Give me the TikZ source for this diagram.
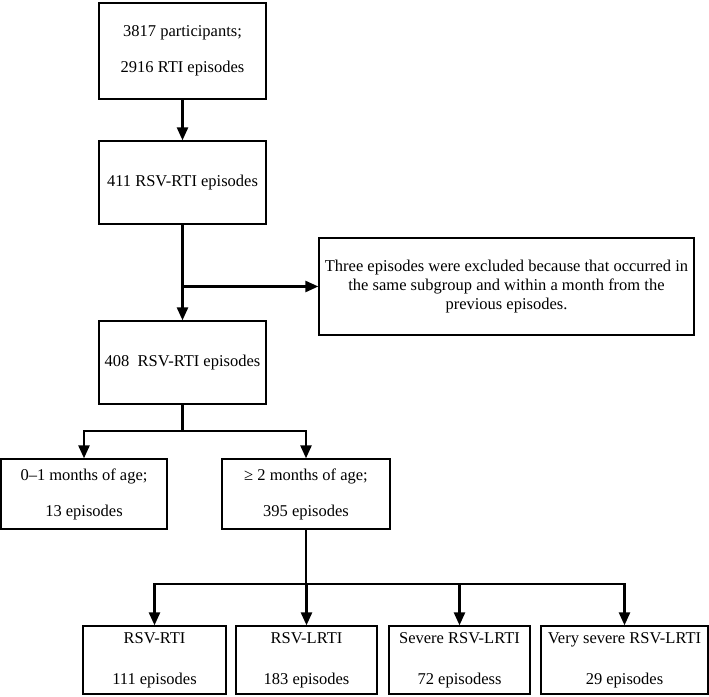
\documentclass[tikz,border=0pt]{standalone}
\usepackage{fontspec}
\setmainfont{Liberation Serif}
\usetikzlibrary{arrows.meta}

\begin{document}
\begin{tikzpicture}[x = 1pt, y = 1pt,
  box/.style = {draw, line width = 1.3pt, inner sep = 0pt, align = center,
    font = \fontsize{16.5}{36}\selectfont},
  leafbox/.style = {box, minimum height = 68, font = \fontsize{16.5}{41}\selectfont},
  flow/.style = {line width = 2.5pt},
  flowarrow/.style = {flow, -{Triangle[length = 13pt, width = 11pt]}}]
  \useasboundingbox (0,0) rectangle (709,696);

  \node[box, minimum width = 167, minimum height = 96] (participants) at (182.5,645) {3817 participants;\\2916 RTI episodes};
  \node[box, minimum width = 167, minimum height = 83] (rsv411) at (182.5,513.5) {411 RSV-RTI episodes};
  \node[box, minimum width = 167, minimum height = 83] (rsv408) at (182.5,333.5) {408~~RSV-RTI episodes};
  \node[box, minimum width = 375, minimum height = 97, font = \fontsize{16.5}{19}\selectfont] (excluded) at (506.5,409.5)
    {Three episodes were excluded because that occurred in\\the same subgroup and within a month from the\\previous episodes.};

  \node[box, minimum width = 166, minimum height = 70] (young) at (84,202) {0–1 months of age;\\13 episodes};
  \node[box, minimum width = 168, minimum height = 70] (older) at (306,202) {≥ 2 months of age;\\395 episodes};

  \node[leafbox, minimum width = 143] (rti) at (154.5,36) {RSV-RTI\\111 episodes};
  \node[leafbox, minimum width = 141] (lrti) at (306.5,36) {RSV-LRTI\\183 episodes};
  \node[leafbox, minimum width = 141] (severe) at (459.5,36) {Severe RSV-LRTI\\72 episodess};
  \node[leafbox, minimum width = 167] (vsevere) at (624.5,36) {Very severe RSV-LRTI\\29 episodes};

  \draw[flowarrow] (participants) -- (rsv411);
  \draw[flowarrow] (rsv411) -- (rsv408);
  \coordinate (split) at (rsv411.south |- excluded.west);
  \draw[flowarrow] (split) -- (excluded.west);

  \coordinate (fork1) at (rsv408.south |- 0,265);
  \draw[flow] (rsv408) -- (fork1);
  \draw[flowarrow] (fork1) -| (young.north);
  \draw[flowarrow] (fork1) -| (older.north);

  \coordinate (fork2) at (older.south |- 0,112);
  \draw[flow] (older) -- (fork2);
  \foreach \leaf in {rti, lrti, severe, vsevere}
    \draw[flowarrow] (fork2) -| (\leaf.north);
\end{tikzpicture}
\end{document}
